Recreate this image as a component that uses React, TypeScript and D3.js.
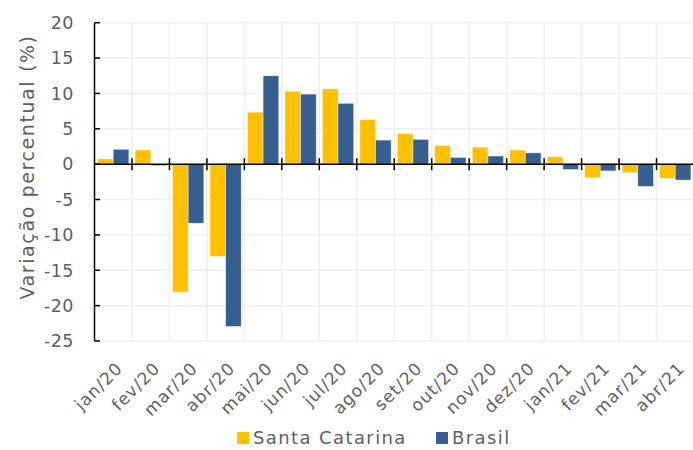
import { useEffect, useRef } from "react"
import * as d3 from "d3"

const months = [
  "jan/20", "fev/20", "mar/20", "abr/20", "mai/20", "jun/20", "jul/20", "ago/20",
  "set/20", "out/20", "nov/20", "dez/20", "jan/21", "fev/21", "mar/21", "abr/21",
]
const santaCatarina = [0.75, 2.0, -18.1, -13.05, 7.35, 10.3, 10.65, 6.3, 4.35, 2.65, 2.4, 2.0, 1.05, -1.9, -1.2, -2.0]
const brasil = [2.1, -0.2, -8.35, -22.95, 12.5, 9.9, 8.6, 3.4, 3.5, 0.95, 1.15, 1.6, -0.75, -0.95, -3.15, -2.25]
const seriesNames = ["Santa Catarina", "Brasil"]
const yTicks = [20, 15, 10, 5, 0, -5, -10, -15, -20, -25]

const colors = ["#FFC000", "#365F91"]
const textColor = "#5f5f5f"
const font = "'DejaVu Sans', sans-serif"

export default function App() {
  const svgRef = useRef<SVGSVGElement>(null)

  useEffect(() => {
    const svg = d3.select(svgRef.current)
    svg.selectAll("*").remove()

    const width = 693
    const height = 450
    const left = 94.5
    const right = 694
    const top = 22.7
    const bottom = 341

    svg.attr("width", width).attr("height", height)

    const x = d3.scaleBand<string>().domain(months).range([left, right]).padding(0)
    const x1 = d3.scaleBand<string>()
      .domain(seriesNames)
      .range([0, x.bandwidth()])
      .paddingInner(0)
      .paddingOuter(0.2)
    const y = d3.scaleLinear().domain([-25, 20]).range([bottom, top])

    // grid
    const grid = svg.append("g")
    grid.selectAll(".hgrid")
      .data(yTicks)
      .enter()
      .append("line")
      .attr("x1", left)
      .attr("x2", right)
      .attr("y1", d => y(d))
      .attr("y2", d => y(d))
      .attr("stroke", "#efefef")
      .attr("stroke-width", 1.5)
    grid.selectAll(".vgrid")
      .data(months.slice(1))
      .enter()
      .append("line")
      .attr("x1", d => x(d)!)
      .attr("x2", d => x(d)!)
      .attr("y1", top)
      .attr("y2", bottom)
      .attr("stroke", "#efefef")
      .attr("stroke-width", 1.5)

    // bars
    const data = [santaCatarina, brasil]
    data.forEach((vals, si) => {
      svg.append("g")
        .selectAll("rect")
        .data(vals)
        .enter()
        .append("rect")
        .attr("x", (d, i) => x(months[i])! + x1(seriesNames[si])!)
        .attr("width", x1.bandwidth())
        .attr("y", d => y(Math.max(0, d)))
        .attr("height", d => Math.abs(y(d) - y(0)))
        .attr("fill", colors[si])
        .attr("stroke", "#ffffff")
        .attr("stroke-opacity", 0.5)
        .attr("stroke-width", 0.8)
    })

    // y axis
    svg.append("line")
      .attr("x1", left).attr("x2", left)
      .attr("y1", top).attr("y2", bottom)
      .attr("stroke", "#000").attr("stroke-width", 1.5)
    svg.selectAll(".ytick")
      .data(yTicks)
      .enter()
      .append("line")
      .attr("x1", left).attr("x2", left + 5.5)
      .attr("y1", d => y(d)).attr("y2", d => y(d))
      .attr("stroke", "#000").attr("stroke-width", 1.5)
    svg.selectAll(".ylabel")
      .data(yTicks)
      .enter()
      .append("text")
      .attr("x", 74)
      .attr("y", d => y(d))
      .attr("dy", "0.36em")
      .attr("text-anchor", "end")
      .attr("font-family", font)
      .attr("font-size", 17.5)
      .attr("letter-spacing", 0.5)
      .attr("fill", textColor)
      .text(d => `${d}`)

    // x axis at zero
    svg.append("line")
      .attr("x1", left).attr("x2", right)
      .attr("y1", y(0)).attr("y2", y(0))
      .attr("stroke", "#000").attr("stroke-width", 1.5)
    svg.selectAll(".xtick")
      .data(months.slice(1))
      .enter()
      .append("line")
      .attr("x1", d => x(d)!).attr("x2", d => x(d)!)
      .attr("y1", y(0) - 6).attr("y2", y(0) + 6)
      .attr("stroke", "#000").attr("stroke-width", 1.5)

    // x labels
    svg.selectAll(".xlabel")
      .data(months)
      .enter()
      .append("text")
      .attr("transform", d => `translate(${x(d)! + x.bandwidth() / 2 + 2},${bottom + 20}) rotate(-45)`)
      .attr("text-anchor", "end")
      .attr("dy", "0.7em")
      .attr("font-family", font)
      .attr("font-size", 17)
      .attr("letter-spacing", 1.0)
      .attr("fill", textColor)
      .text(d => d)

    // y title
    svg.append("text")
      .attr("transform", `translate(34,167) rotate(-90)`)
      .attr("text-anchor", "middle")
      .attr("font-family", font)
      .attr("font-size", 19)
      .attr("letter-spacing", 1.6)
      .attr("fill", textColor)
      .text("Variação percentual (%)")

    // legend
    const legend = svg.append("g").attr("transform", "translate(237,438)")
    const legendX = [0, 199]
    seriesNames.forEach((name, i) => {
      legend.append("rect")
        .attr("x", legendX[i])
        .attr("y", -6)
        .attr("width", 12)
        .attr("height", 12)
        .attr("fill", colors[i])
      legend.append("text")
        .attr("x", legendX[i] + 16)
        .attr("y", 0)
        .attr("dy", "0.36em")
        .attr("font-family", font)
        .attr("font-size", 18)
        .attr("letter-spacing", 1.4)
        .attr("fill", textColor)
        .text(name)
    })
  }, [])

  return (
    <svg ref={svgRef} style={{ position: "absolute", left: 0, top: 0, background: "#fff" }}></svg>
  )
}
